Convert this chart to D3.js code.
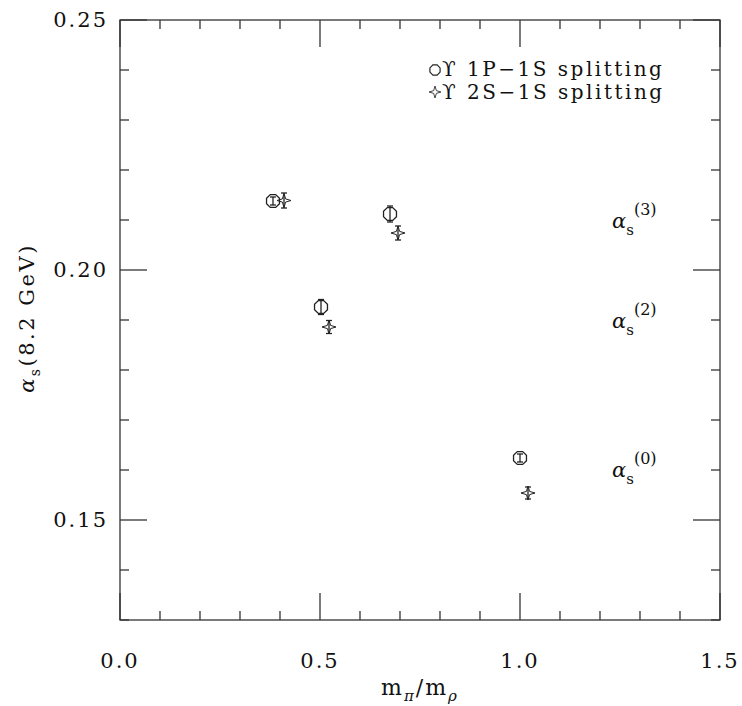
<!DOCTYPE html>
<html>
<head>
<meta charset="utf-8">
<script src="https://cdn.jsdelivr.net/npm/d3@7"></script>
<style>
  body { margin: 0; background: #fff; }
  text { font-family: "DejaVu Serif", "Liberation Serif", serif; fill: #111; }
  .tick-label { font-size: 21px; letter-spacing: 2px; }
</style>
</head>
<body>
<div id="chart"></div>
<script>
// data
const pXs = [0.3825, 0.5025, 0.675, 1.0];      // 1P-1S (circles)
const pYs = [0.2138, 0.1926, 0.2112, 0.1624];
const pErr = [0.0008, 0.0015, 0.0016, 0.0008];

const sXs = [0.41, 0.5225, 0.695, 1.02];       // 2S-1S (stars)
const sYs = [0.2139, 0.1886, 0.2074, 0.1554];
const sErr = [0.0015, 0.0013, 0.0014, 0.0012];

const xMajor = [0.0, 0.5, 1.0, 1.5];
const yMajor = [0.15, 0.20, 0.25];
const legendLabels = ["ϒ 1P−1S splitting", "ϒ 2S−1S splitting"];
const annotNames = ["3", "2", "0"];
const annotYs = [0.2084, 0.1884, 0.1586];
const annotX = 1.23;

const svgWidth = 742, svgHeight = 706;
const margin = { top: 20, right: 22, bottom: 86, left: 120 };
const width = svgWidth - margin.left - margin.right;   // 600
const height = svgHeight - margin.top - margin.bottom; // 600

const svg = d3.select("#chart").append("svg")
  .attr("width", svgWidth).attr("height", svgHeight);
const g = svg.append("g").attr("transform", `translate(${margin.left},${margin.top})`);

const x = d3.scaleLinear().domain([0, 1.5]).range([0, width]);
const y = d3.scaleLinear().domain([0.13, 0.25]).range([height, 0]);

// frame
g.append("rect").attr("width", width).attr("height", height)
  .attr("fill", "none").attr("stroke", "#333").attr("stroke-width", 1.3);

// ticks on all four sides
const xTicks = d3.range(0, 16).map(i => i / 10);
const yTicks = d3.range(13, 26).map(i => i / 100);
const isMaj = (v, arr) => arr.some(m => Math.abs(m - v) < 1e-6);
const tickG = g.append("g").attr("stroke", "#333").attr("stroke-width", 1.3);
xTicks.forEach(v => {
  const len = isMaj(v, xMajor) ? 27 : 9;
  tickG.append("line").attr("x1", x(v)).attr("x2", x(v)).attr("y1", height).attr("y2", height - len);
  tickG.append("line").attr("x1", x(v)).attr("x2", x(v)).attr("y1", 0).attr("y2", len);
});
yTicks.forEach(v => {
  const len = isMaj(v, yMajor) ? 27 : 9;
  tickG.append("line").attr("y1", y(v)).attr("y2", y(v)).attr("x1", 0).attr("x2", len);
  tickG.append("line").attr("y1", y(v)).attr("y2", y(v)).attr("x1", width).attr("x2", width - len);
});

// tick labels
g.selectAll(".xl").data(xMajor).enter().append("text")
  .attr("class", "tick-label").attr("x", d => x(d)).attr("y", height + 48)
  .attr("text-anchor", "middle").text(d => d3.format(".1f")(d));
g.selectAll(".yl").data(yMajor).enter().append("text")
  .attr("class", "tick-label").attr("x", -12).attr("y", d => y(d) + 7)
  .attr("text-anchor", "end").text(d => d3.format(".2f")(d));

// axis titles
const xt = g.append("text").attr("x", width / 2).attr("y", height + 75)
  .attr("text-anchor", "middle").style("font-size", "22px").style("letter-spacing", "2px");
xt.append("tspan").text("m");
xt.append("tspan").attr("dy", 6).style("font-size", "15px").style("font-style", "italic").text("π");
xt.append("tspan").attr("dy", -6).text("/m");
xt.append("tspan").attr("dy", 6).style("font-size", "15px").style("font-style", "italic").text("ρ");

const yt = svg.append("text")
  .attr("transform", `translate(34, 318) rotate(-90)`)
  .attr("text-anchor", "middle").style("font-size", "21px").style("letter-spacing", "2.5px");
yt.append("tspan").style("font-style", "italic").text("α");
yt.append("tspan").attr("dy", 6).style("font-size", "14px").text("s");
yt.append("tspan").attr("dy", -6).text("(8.2 GeV)");

// markers
function octagon(r) {
  return d3.range(8).map(i => {
    const a = Math.PI / 8 + i * Math.PI / 4;
    return [r * Math.cos(a), r * Math.sin(a)];
  });
}
const octPath = "M" + octagon(7).map(p => p.join(",")).join("L") + "Z";
const starPath = "M0,-7 L1.6,-1.6 L7,0 L1.6,1.6 L0,7 L-1.6,1.6 L-7,0 L-1.6,-1.6 Z";

function errBar(sel, xv, yv, ev, cap) {
  sel.append("line").attr("x1", x(xv)).attr("x2", x(xv))
    .attr("y1", y(yv - ev)).attr("y2", y(yv + ev));
  [yv - ev, yv + ev].forEach(v => sel.append("line")
    .attr("x1", x(xv) - cap).attr("x2", x(xv) + cap).attr("y1", y(v)).attr("y2", y(v)));
}

const marks = g.append("g").attr("stroke", "#222").attr("stroke-width", 1.3).attr("fill", "none");
pXs.forEach((xv, i) => {
  marks.append("path").attr("d", octPath)
    .attr("transform", `translate(${x(xv)},${y(pYs[i])})`);
  errBar(marks, xv, pYs[i], pErr[i], 3);
});
sXs.forEach((xv, i) => {
  marks.append("path").attr("d", starPath).attr("stroke-width", 1)
    .attr("transform", `translate(${x(xv)},${y(sYs[i])})`);
  errBar(marks, xv, sYs[i], sErr[i], 3);
});

// legend
const legend = g.append("g").attr("transform", `translate(${x(0.77)},0)`);
legend.append("path").attr("d", "M" + octagon(5.5).map(p => p.join(",")).join("L") + "Z")
  .attr("transform", "translate(7,50)").attr("fill", "none").attr("stroke", "#222").attr("stroke-width", 1.2);
legend.append("text").attr("x", 14).attr("y", 56).style("font-size", "20px")
  .style("letter-spacing", "2.5px").text(legendLabels[0]);
legend.append("path").attr("d", starPath).attr("transform", "translate(7,72) scale(0.85)")
  .attr("fill", "none").attr("stroke", "#222").attr("stroke-width", 1);
legend.append("text").attr("x", 14).attr("y", 79).style("font-size", "20px")
  .style("letter-spacing", "2.5px").text(legendLabels[1]);

// right-hand annotations
annotNames.forEach((n, i) => {
  const t = g.append("text").attr("x", x(annotX)).attr("y", y(annotYs[i])).style("font-size", "21px");
  t.append("tspan").style("font-style", "italic").text("α");
  t.append("tspan").attr("dy", 7).style("font-size", "15px").text("s");
  t.append("tspan").attr("dy", -20).style("font-size", "16px").text(`(${n})`);
});
</script>
</body>
</html>
